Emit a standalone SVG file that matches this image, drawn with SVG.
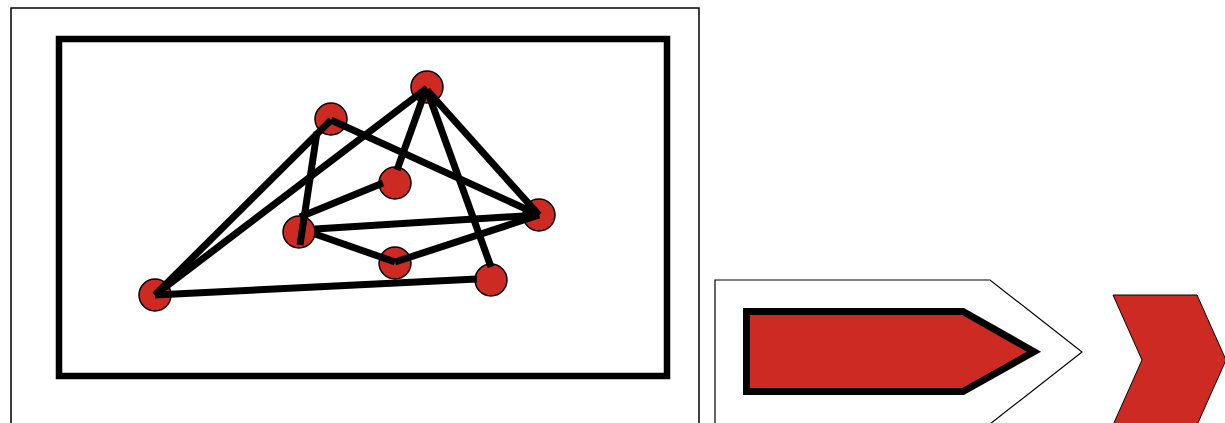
<svg xmlns="http://www.w3.org/2000/svg" width="1225" height="423" viewBox="0 0 1225 423">
<style>
.node{fill:#cc2a22;stroke:#000;stroke-width:1.5}
.edge{stroke:#000;stroke-width:7;fill:none}
</style>
<rect x="0" y="0" width="1225" height="423" fill="#fff"/>
<rect id="outer" x="11" y="8" width="688" height="430" fill="none" stroke="#000" stroke-width="1.5"/>
<rect id="frame" x="59" y="39" width="608" height="337" fill="none" stroke="#000" stroke-width="6.5"/>
<g id="nodes-layer">
<g id="nA"><circle class="node" cx="155" cy="295" r="16"/></g>
<g id="nB"><circle class="node" cx="331" cy="119" r="16"/></g>
<g id="nC"><circle class="node" cx="427" cy="87" r="16"/></g>
<g id="nD"><circle class="node" cx="395" cy="183" r="16"/></g>
<g id="nE"><circle class="node" cx="299" cy="232" r="16"/></g>
<g id="nF"><circle class="node" cx="539" cy="215" r="16"/></g>
<g id="nG"><circle class="node" cx="395" cy="263" r="16"/></g>
<g id="nH"><circle class="node" cx="491" cy="280" r="16"/></g>
</g>
<g id="connectors">
<line class="edge" x1="155" y1="295" x2="331" y2="120"/>
<line class="edge" x1="155" y1="295" x2="427" y2="88"/>
<line class="edge" x1="317" y1="132" x2="300" y2="245"/>
<line class="edge" x1="331" y1="120" x2="539" y2="215"/>
<line class="edge" x1="425" y1="92" x2="397" y2="170"/>
<line class="edge" x1="427" y1="90" x2="491" y2="267"/>
<line class="edge" x1="427" y1="90" x2="539" y2="215"/>
<line class="edge" x1="300" y1="217" x2="383" y2="183"/>
<line class="edge" x1="315" y1="229" x2="539" y2="215"/>
<line class="edge" x1="315" y1="234" x2="395" y2="262"/>
<line class="edge" x1="395" y1="262" x2="539" y2="215"/>
<line class="edge" x1="155" y1="295" x2="477" y2="279"/>
</g>
<g id="arrow-outline"><polygon points="715,280 990,280 1082,352 990,424 715,424" fill="#fff" stroke="#000" stroke-width="1.2"/></g>
<g id="arrow-inner"><polygon points="746.5,311.5 963,311.5 1034,351.7 963,391.5 746.5,391.5" fill="#cc2a22" stroke="#000" stroke-width="7"/></g>
<g id="chevron"><polygon points="1113,295 1197,295 1226,360 1197,425 1113,425 1142,360" fill="#cc2a22" stroke="#000" stroke-width="1"/></g>
</svg>
